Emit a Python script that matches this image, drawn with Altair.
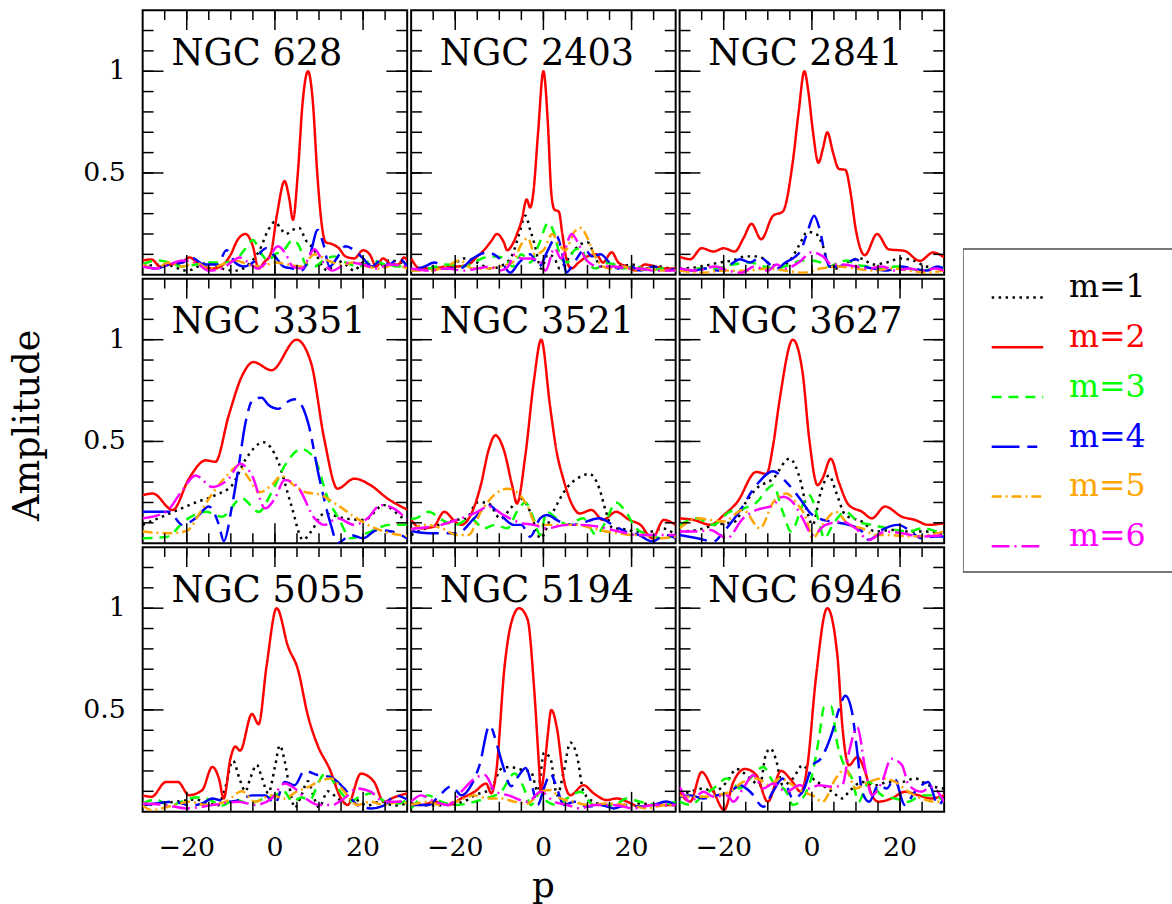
import altair as alt
import pandas as pd

FONT = "DejaVu Serif"

# Fourier modes and their styles
M_LABELS = ["m=1", "m=2", "m=3", "m=4", "m=5", "m=6"]
M_COLORS = ["#000000", "#ff0000", "#00ff00", "#0000ff", "#ffa500", "#ff00ff"]
M_DASHES = [[2.5, 4.5], [1, 0], [10, 7], [28, 8, 10, 8], [10, 4, 2, 4], [18, 5, 2, 5]]

# Axis extents, labelled values and inward tick positions
X_DOMAIN = [-30, 30]
Y_DOMAIN = [0, 1.3]
X_LABEL_VALUES = [-20, 0, 20]
Y_LABEL_VALUES = [0.5, 1]
X_TICKS_MINOR = [-25, -20, -15, -10, -5, 0, 5, 10, 15, 20, 25]
X_TICKS_MAJOR = [-20, 0, 20]
Y_TICKS_MINOR = [0.1, 0.2, 0.3, 0.4, 0.5, 0.6, 0.7, 0.8, 0.9, 1.0, 1.1, 1.2]
Y_TICKS_MAJOR = [0.5, 1.0]
X_TITLE = "p"
Y_TITLE = "Amplitude"

# Amplitude spectra: (p, amplitude) samples for each mode
NGC_628 = {
    "m=1": [(-30, .04), (-25, .05), (-20, .02), (-15, .06), (-12, .03), (-9, .02), (-6, .05), (-3.5, .12),
            (-1.5, .22), (0, .26), (1.5, .22), (2.5, .2), (4, .22), (5.5, .23), (7, .17), (9, .12),
            (10.5, .05), (12, .02), (14, .07), (16, .05), (18, .02), (20, .06), (23, .04), (26, .07), (30, .05)],
    "m=2": [(-30, .07), (-28, .075), (-26, .04), (-24, .05), (-21, .06), (-19.5, .085), (-17, .05), (-14, .03),
            (-12, .045), (-10, .1), (-8.5, .17), (-6.7, .2), (-5, .14), (-3.7, .03), (-2.5, .06), (-1, .1),
            (0.5, .3), (2.2, .46), (3.2, .38), (4.1, .27), (5.2, .5), (6.3, .85), (7.5, 1.0), (8.6, .85),
            (9.6, .5), (10.6, .25), (11.5, .16), (13, .15), (14.5, .13), (16, .09), (18, .08), (20, .12),
            (21.5, .1), (23, .04), (24.5, .08), (26.5, .05), (28, .05), (29.3, .085), (30, .07)],
    "m=3": [(-30, .05), (-27, .07), (-24, .06), (-21, .04), (-18, .05), (-15, .06), (-12, .06), (-9, .07),
            (-7, .12), (-5, .17), (-3, .1), (-1.5, .07), (0, .1), (2, .12), (4, .17), (5.5, .14), (7, .05),
            (9, .04), (11, .07), (13.5, .09), (16, .06), (19, .04), (22, .07), (25, .05), (28, .04), (30, .06)],
    "m=4": [(-30, .05), (-27, .03), (-24, .05), (-21, .06), (-19, .085), (-16, .05), (-13, .05), (-11, .12),
            (-9, .06), (-7, .04), (-5, .06), (-2, .13), (0, .09), (2, .04), (4, .03), (6, .02), (8, .1),
            (9.7, .22), (11, .15), (12.4, .04), (14, .08), (16, .14), (18, .12), (20, .08), (22, .04),
            (24, .07), (26, .05), (28, .08), (30, .04)],
    "m=5": [(-30, .05), (-27, .03), (-24, .06), (-21, .04), (-18, .06), (-15, .03), (-12, .05), (-9, .07),
            (-6, .05), (-3, .04), (0, .06), (3, .05), (6, .04), (9, .1), (12, .07), (15, .05), (18, .06),
            (21, .04), (24, .03), (27, .05), (30, .03)],
    "m=6": [(-30, .04), (-27, .03), (-24, .05), (-21, .07), (-18, .06), (-15, .02), (-12, .03), (-10, .06),
            (-8, .085), (-6, .06), (-4, .03), (-2, .06), (0.7, .14), (2.5, .1), (4, .04), (6, .03), (9, .125),
            (11, .06), (13, .02), (15, .04), (17, .06), (20, .05), (23, .03), (26, .05), (30, .04)],
}

NGC_2403 = {
    "m=1": [(-30, .02), (-26, .04), (-22, .03), (-18, .08), (-15, .06), (-12, .03), (-9, .05), (-7, .1),
            (-5.5, .2), (-4.1, .29), (-3, .22), (-2, .15), (-0.5, .03), (1, .1), (2.5, .08), (3.7, .03),
            (5, .06), (7, .12), (8.5, .15), (10, .16), (11.5, .1), (13, .04), (15, .06), (17, .04), (20, .05),
            (23, .03), (26, .04), (30, .02)],
    "m=2": [(-30, .08), (-28, .03), (-25, .03), (-22, .04), (-20, .04), (-17, .05), (-15, .09), (-13.5, .12),
            (-12, .16), (-10.5, .2), (-9, .16), (-8.2, .12), (-7, .15), (-6, .2), (-4.9, .27), (-3.8, .37),
            (-3, .33), (-2.3, .4), (-1.2, .7), (0, 1.0), (1.0, .75), (1.8, .4), (2.5, .32), (3.5, .31),
            (4.3, .2), (5.2, .08), (6.3, .03), (8, .06), (10, .09), (12, .1), (13.5, .06), (15.5, .11),
            (17, .06), (19, .04), (21, .02), (23, .05), (25.5, .04), (27.5, .03), (30, .03)],
    "m=3": [(-30, .02), (-26, .03), (-22, .05), (-18, .04), (-15, .07), (-12, .09), (-9, .085), (-7, .04),
            (-5, .1), (-3, .06), (-1, .15), (1.1, .255), (2.5, .2), (4, .08), (5.5, .06), (7, .12), (8.5, .13),
            (10, .06), (12, .03), (14, .06), (16, .05), (18, .03), (21, .04), (24, .02), (27, .03), (30, .02)],
    "m=4": [(-30, .02), (-27, .04), (-24.7, .06), (-22, .03), (-19, .03), (-16, .08), (-12.7, .11), (-10, .08),
            (-7.5, .01), (-5.5, .06), (-3, .1), (-1, .04), (1, .12), (3, .19), (4.3, .1), (5.2, .01), (7, .06),
            (9.4, .125), (11, .09), (13, .1), (15, .06), (17, .03), (19, .05), (22, .02), (25, .04), (28, .02),
            (30, .03)],
    "m=5": [(-30, .02), (-26, .02), (-22, .04), (-19, .07), (-16, .03), (-13, .03), (-10, .04), (-7, .06),
            (-5, .15), (-3.5, .18), (-2, .1), (0, .12), (2, .2), (3.5, .15), (5, .12), (7, .21), (8.5, .23),
            (10, .18), (11.5, .1), (13, .05), (15, .03), (18, .04), (21, .02), (24, .03), (27, .02), (30, .02)],
    "m=6": [(-30, .03), (-26, .02), (-22, .03), (-18, .02), (-15, .03), (-12, .04), (-10, .02), (-8, .04),
            (-6.5, .1), (-5, .08), (-3, .08), (-1, .07), (0.5, .02), (2.5, .13), (4, .08), (6.4, .2), (8, .15),
            (9.5, .08), (11, .05), (13, .04), (16, .04), (19, .03), (22, .03), (25, .02), (28, .02), (30, .02)],
}

NGC_2841 = {
    "m=1": [(-30, .03), (-25, .04), (-21, .06), (-18, .07), (-15, .09), (-12, .09), (-10, .06), (-7, .04),
            (-5, .07), (-3, .14), (-1, .21), (1, .2), (2.5, .14), (4, .04), (6, .03), (8, .06), (11, .08),
            (14, .05), (17, .06), (20, .08), (23, .07), (26, .04), (30, .03)],
    "m=2": [(-30, .088), (-27.6, .076), (-25, .13), (-22.3, .114), (-20, .13), (-17.5, .114), (-15.5, .18),
            (-13.7, .25), (-11.5, .174), (-8.8, .29), (-6.6, .31), (-4.3, .56), (-3, .8), (-1.7, 1.0),
            (-0.8, .9), (0.15, .72), (1.5, .55), (2.5, .62), (3.5, .70), (4.8, .6), (6.1, .52), (7.6, .515),
            (8.8, .4), (9.9, .23), (12, .096), (14.8, .2), (17.4, .125), (21, .117), (24.5, .068),
            (27.5, .109), (30, .085)],
    "m=3": [(-30, .02), (-26, .03), (-22, .03), (-18, .05), (-14, .06), (-11, .04), (-8, .03), (-5, .05),
            (-2, .07), (0, .07), (2, .06), (4, .04), (6, .06), (8, .07), (10, .05), (13, .04), (16, .03),
            (19, .04), (22, .03), (25, .02), (28, .03), (30, .03)],
    "m=4": [(-30, .03), (-27, .02), (-24, .03), (-21, .02), (-18.5, .05), (-16.3, .076), (-14, .06),
            (-11.8, .085), (-9.5, .05), (-8, .03), (-6, .06), (-4, .085), (-2.5, .12), (-1, .21), (0.5, .29),
            (1.8, .22), (3, .1), (4, .04), (6, .04), (8, .06), (10, .076), (12, .04), (14, .03), (17, .02),
            (20, .04), (23, .03), (26, .02), (28.5, .04), (30, .03)],
    "m=5": [(-30, .02), (-25, .01), (-20, .02), (-15, .02), (-10, .03), (-6, .02), (-2, .01), (2, .03),
            (6, .04), (10, .03), (14, .02), (18, .03), (22, .02), (26, .01), (30, .02)],
    "m=6": [(-30, .03), (-26, .02), (-22, .04), (-19, .02), (-16, .01), (-13, .04), (-10, .02), (-8, .05),
            (-6, .03), (-3, .06), (0, .11), (2.5, .09), (4.5, .05), (7, .05), (10, .04), (13, .03), (16, .04),
            (19, .02), (22, .03), (25, .02), (28, .03), (30, .02)],
}

NGC_3351 = {
    "m=1": [(-30, .09), (-23, .154), (-18, .2), (-13.5, .236), (-9.7, .285), (-6.7, .41), (-2.6, .496),
            (0.75, .40), (3.7, .187), (6.4, .016), (8.2, .057), (11.2, .146), (15.7, .122), (20.2, .114),
            (24.7, .187), (29.2, .122), (30, .115)],
    "m=2": [(-30, .236), (-27.7, .244), (-23.2, .163), (-19.5, .317), (-15.7, .407), (-13.5, .40),
            (-10.5, .626), (-7.5, .82), (-4.9, .89), (-0.75, .85), (4.9, 1.0), (8.2, .886), (11.2, .51),
            (14.2, .268), (18, .317), (21.7, .285), (25.5, .22), (30, .165)],
    "m=3": [(-30, .024), (-24.7, .03), (-20.2, .114), (-15.7, .154), (-12, .13), (-7.5, .22), (-3.7, .154),
            (-0.75, .25), (2.2, .38), (6, .463), (9, .415), (12, .22), (14.5, .12), (17.2, .024),
            (21.7, .057), (26, .09), (30, .09)],
    "m=4": [(-30, .154), (-24, .154), (-21, .09), (-18, .122), (-15, .18), (-12.7, .09), (-11.6, .01),
            (-9.7, .187), (-8.2, .38), (-6.7, .59), (-4.9, .707), (-3, .715), (-1.5, .68), (0.75, .66),
            (2.5, .69), (4.5, .707), (6, .68), (7.5, .594), (10.1, .317), (12.7, .09), (14.2, .0),
            (17.2, .04), (20, .024), (23.2, .065), (26.5, .057), (30, .024)],
    "m=5": [(-30, .057), (-24, .049), (-20, .06), (-17, .15), (-14, .25), (-11, .33), (-8.2, .38), (-6, .32),
            (-3.5, .25), (-1, .28), (1.5, .33), (4, .29), (7, .25), (10, .24), (14, .19), (18, .13), (22, .08),
            (26, .05), (30, .035)],
    "m=6": [(-30, .122), (-24.7, .154), (-21, .26), (-18, .333), (-14.2, .276), (-10.5, .317), (-7.9, .39),
            (-5.2, .333), (-2.2, .17), (0, .22), (2.2, .31), (5.2, .276), (9, .122), (11.2, .09), (14.2, .122),
            (18, .09), (21, .122), (24, .187), (27, .17), (30, .114)],
}

NGC_3521 = {
    "m=1": [(-30, .04), (-27, .07), (-22, .1), (-20, .114), (-17.5, .12), (-15, .2), (-12.7, .2), (-9.7, .12),
            (-7.5, .17), (-5.2, .22), (-3, .154), (-1.5, .057), (-0.75, .024), (2.2, .154), (5.2, .268),
            (8.2, .325), (10.5, .34), (12.7, .268), (14.2, .154), (15.7, .073), (18, .07), (21, .057),
            (24.7, .057), (27, .073), (30, .04)],
    "m=2": [(-30, .114), (-27.7, .073), (-25, .08), (-22.5, .154), (-20, .106), (-18.7, .09), (-16.5, .138),
            (-14.2, .285), (-12.4, .46), (-10.9, .53), (-9, .46), (-7.1, .285), (-6, .195), (-4.1, .43),
            (-2.2, .79), (-0.5, 1.0), (1.5, .675), (3, .45), (4.5, .317), (6.5, .19), (8.2, .146),
            (10.9, .163), (13.5, .114), (16.5, .154), (19.5, .114), (22, .09), (24.7, .024), (27.3, .114),
            (30, .09)],
    "m=3": [(-30, .12), (-29, .122), (-26, .154), (-23, .114), (-20, .09), (-16.5, .122), (-13.5, .073),
            (-11, .09), (-8.2, .073), (-6, .154), (-4.1, .2), (-2.2, .12), (-0.75, .04), (0.75, .154),
            (3, .122), (5.5, .09), (9, .122), (12, .04), (14, .1), (16.5, .2), (18.7, .154), (21, .073),
            (24, .04), (27, .024), (30, .04)],
    "m=4": [(-30, .06), (-26, .049), (-19.5, .049), (-15.7, .122), (-12.4, .187), (-9.7, .138), (-6.7, .09),
            (-5, .09), (-3, .032), (-0.75, .122), (0.75, .138), (3.7, .106), (6.7, .09), (9.7, .106),
            (12.7, .122), (15.7, .09), (18.7, .057), (21.7, .04), (24.7, .008), (27.7, .04), (30, .024)],
    "m=5": [(-30, .065), (-27, .09), (-23, .073), (-19.5, .04), (-17, .04), (-14.2, .154), (-11.2, .236),
            (-8.2, .268), (-6, .25), (-3.7, .187), (-1.5, .09), (1.5, .09), (4.5, .09), (7.5, .09),
            (11.2, .073), (14.2, .057), (17.2, .049), (20.2, .04), (23.2, .04), (26.2, .024), (30, .032)],
    "m=6": [(-30, .07), (-28.5, .073), (-23.2, .09), (-18.7, .122), (-15.7, .146), (-12.4, .18), (-9, .138),
            (-5.2, .1), (-2.2, .09), (0.75, .073), (5.2, .09), (9, .09), (12.7, .08), (17.2, .057),
            (21.7, .04), (26.2, .04), (30, .04)],
}

NGC_3627 = {
    "m=1": [(-30, .057), (-26, .065), (-22, .09), (-17.5, .106), (-15, .2), (-12.6, .268), (-8.8, .317),
            (-5.1, .415), (-2.5, .3), (-1, .15), (0.15, .09), (2, .25), (3.9, .333), (5.5, .25), (7.6, .138),
            (11.4, .106), (14.4, .057), (18, .065), (22, .057), (26, .057), (30, .04)],
    "m=2": [(-30, .122), (-26.8, .114), (-23, .09), (-20, .138), (-17, .2), (-12.6, .35), (-10.3, .34),
            (-8.8, .48), (-7.3, .707), (-4.3, 1.0), (-2.1, .837), (-0.6, .512), (1.3, .285), (2.4, .317),
            (4.3, .415), (6.1, .3), (8.4, .187), (11.4, .154), (13.6, .122), (16.6, .18), (20.4, .13),
            (23.4, .114), (26.4, .09), (30, .098)],
    "m=3": [(-30, .09), (-26, .122), (-22.5, .09), (-18.7, .154), (-15.6, .17), (-12.6, .2), (-8.8, .285),
            (-6.6, .154), (-4.7, .057), (-2.1, .187), (-0.6, .236), (1.6, .106), (2.8, .024), (5, .1),
            (7.6, .154), (10.5, .106), (13.5, .09), (17.2, .073), (21.9, .057), (25, .073), (30, .04)],
    "m=4": [(-30, .04), (-26, .024), (-22.3, .008), (-20, .057), (-17, .138), (-12.6, .285), (-8.8, .354),
            (-5.8, .3), (-2.1, .2), (-0.6, .154), (1.6, .122), (4.6, .106), (8.4, .09), (11.4, .057),
            (12.9, .016), (15.9, .065), (19.6, .09), (22, .065), (24.9, .024), (27.8, .033), (30, .033)],
    "m=5": [(-30, .073), (-26, .122), (-23, .114), (-20, .106), (-15.6, .163), (-11.8, .073), (-8.8, .2),
            (-5.8, .244), (-3.6, .2), (-1.3, .122), (0.15, .024), (2.4, .09), (5.4, .154), (8.4, .09),
            (11.4, .073), (14.4, .04), (17.4, .04), (21.9, .033), (26.4, .04), (30, .057)],
    "m=6": [(-30, .057), (-26, .057), (-23, .065), (-19.3, .024), (-15.6, .122), (-12.6, .163), (-8.8, .187),
            (-6.6, .228), (-4.3, .2), (-2.1, .122), (0.15, .04), (3.1, .09), (6.9, .106), (9.9, .073),
            (12.9, .016), (16.6, .057), (20.4, .049), (24.9, .033), (30, .04)],
}

NGC_5055 = {
    "m=1": [(-30, .03), (-26, .04), (-22, .05), (-18, .06), (-15, .04), (-13, .03), (-11.5, .1), (-9.5, .25),
            (-8, .16), (-6.7, .1), (-5.5, .17), (-4.1, .23), (-3, .17), (-1.5, .09), (0, .22), (1.1, .325),
            (2.2, .25), (3.3, .12), (4.5, .02), (6, .08), (7.5, .15), (9, .06), (10, .02), (12, .1), (14, .07),
            (16, .04), (18, .06), (21, .03), (24, .05), (27, .03), (30, .04)],
    "m=2": [(-30, .08), (-28, .073), (-24.7, .146), (-22, .146), (-19.5, .081), (-16.5, .106), (-14.2, .22),
            (-12.7, .163), (-11.6, .065), (-10.1, .26), (-9, .32), (-7.9, .30), (-5.2, .48), (-3.7, .43),
            (-1.9, .715), (0.4, 1.0), (3, .81), (5.2, .70), (7.5, .47), (9.7, .325), (12.4, .21), (15, .065),
            (16.5, .033), (19.5, .187), (22.5, .146), (24.7, .049), (27, .07), (30, .09)],
    "m=3": [(-30, .04), (-27, .06), (-24, .03), (-21, .05), (-18, .07), (-15, .06), (-12, .03), (-9, .06),
            (-6, .04), (-3, .06), (0, .08), (2, .1), (4, .05), (6, .07), (8, .06), (10, .15), (11.5, .19),
            (13.5, .14), (15.5, .08), (17, .05), (19, .07), (22, .09), (25, .05), (28, .04), (30, .06)],
    "m=4": [(-30, .03), (-27, .04), (-23, .049), (-19, .03), (-16.5, .04), (-14.2, .065), (-11, .049),
            (-8, .057), (-5.2, .08), (-2.2, .08), (0, .04), (2.2, .146), (4.5, .13), (6.7, .2), (9.7, .18),
            (12.7, .17), (15.7, .114), (18.7, .033), (21.7, .016), (24.7, .03), (27.3, .08), (30, .06)],
    "m=5": [(-30, .03), (-28, .008), (-23.2, .03), (-19.5, .049), (-15.7, .033), (-11.2, .049), (-7.5, .1),
            (-4.5, .049), (-0.75, .08), (2.2, .065), (5, .1), (7.5, .12), (9.7, .146), (12.7, .163),
            (15.7, .1), (18.7, .033), (21.7, .049), (24.7, .033), (28, .049), (30, .04)],
    "m=6": [(-30, .04), (-25, .033), (-20, .016), (-16.5, .024), (-12, .04), (-8.2, .049), (-4.5, .033),
            (-0.75, .065), (2.2, .138), (4.5, .114), (7, .065), (10, .033), (13, .033), (15.7, .065),
            (18.7, .114), (21.7, .098), (24.7, .049), (28, .049), (30, .06)],
}

NGC_5194 = {
    "m=1": [(-30, .04), (-25, .03), (-22, .033), (-18, .05), (-15.6, .08), (-11.8, .114), (-9.6, .21),
            (-7.5, .22), (-5.8, .21), (-2.8, .195), (-1.3, .1), (0.15, .29), (1.6, .26), (3.1, .08),
            (4.6, .195), (6.1, .34), (7.6, .276), (9.1, .098), (11.4, .049), (14.4, .033), (18, .033),
            (22, .04), (26, .033), (30, .033)],
    "m=2": [(-30, .04), (-27.6, .033), (-24.6, .049), (-21.6, .033), (-18.6, .065), (-15.6, .098),
            (-13, .138), (-11.8, .09), (-10.7, .195), (-8.8, .715), (-7.3, .927), (-5.5, 1.0), (-3.6, .946),
            (-2.1, .605), (-1, .228), (-0.6, .1), (0.15, .195), (0.9, .358), (1.8, .5), (3.1, .407),
            (4.6, .163), (6.1, .081), (9.1, .13), (11.4, .09), (14.4, .057), (16.6, .065), (19, .049),
            (21.9, .024), (25, .033), (28, .033), (30, .033)],
    "m=3": [(-30, .016), (-26.2, .08), (-23.2, .049), (-19.5, .033), (-15.6, .049), (-13, .065), (-9.6, .098),
            (-6.6, .187), (-4.7, .13), (-2.8, .033), (-0.6, .098), (0.9, .049), (3.1, .033), (5.4, .065),
            (8.4, .098), (11.4, .033), (15.9, .033), (18.9, .065), (21.9, .049), (26.4, .033), (30, .049)],
    "m=4": [(-30, .033), (-26, .033), (-23.6, .08), (-20.8, .125), (-18.6, .08), (-16.3, .133), (-14.5, .228),
            (-12.2, .423), (-10.3, .31), (-9.2, .228), (-7.3, .125), (-5.8, .17), (-4, .215), (-2.5, .12),
            (-1.3, .033), (0.2, .12), (1.6, .187), (2.8, .133), (4.6, .033), (7, .049), (10, .024), (13, .033),
            (16, .016), (19, .033), (22, .024), (25, .033), (27.8, .05), (30, .033)],
    "m=5": [(-30, .033), (-26, .049), (-23.6, .033), (-19.9, .049), (-15.6, .08), (-12.6, .065), (-9.6, .065),
            (-6.6, .049), (-3.6, .04), (-0.6, .098), (1.6, .106), (3.9, .065), (6.9, .049), (9.9, .033),
            (14.4, .04), (18.9, .033), (23.4, .016), (27.8, .033), (30, .033)],
    "m=6": [(-30, .049), (-27.7, .08), (-24.6, .049), (-21.6, .033), (-18.6, .098), (-15.6, .163),
            (-13.3, .18), (-10.9, .098), (-7.9, .08), (-3.6, .049), (-0.6, .098), (2.4, .049), (5.4, .033),
            (8.4, .016), (11.4, .033), (15.9, .033), (20.4, .016), (24.9, .033), (30, .033)],
}

NGC_6946 = {
    "m=1": [(-30, .08), (-27.6, .098), (-24.6, .114), (-22.3, .098), (-19.3, .146), (-17.1, .21), (-14, .163),
            (-11.8, .13), (-10.5, .276), (-9.4, .31), (-8.2, .26), (-6.6, .13), (-4.3, .163), (-2.1, .228),
            (0.2, .163), (2.4, .13), (4.6, .098), (6.9, .065), (8.4, .098), (11.4, .146), (14.4, .13),
            (17.4, .146), (20.4, .146), (23.4, .163), (26.4, .13), (30, .114)],
    "m=2": [(-30, .098), (-27.6, .049), (-25, .195), (-22.3, .098), (-19.9, .008), (-17.8, .146), (-15.2, .21),
            (-12.6, .18), (-10, .049), (-7, .2), (-4.7, .155), (-2.5, .098), (-1, .228), (0.9, .654),
            (3.5, 1.0), (5.8, .764), (6.9, .423), (8.4, .228), (10.3, .268), (12.1, .195), (13.6, .081),
            (15.1, .049), (18.1, .065), (21.1, .098), (24.1, .081), (27, .065), (30, .081)],
    "m=3": [(-30, .049), (-27.6, .033), (-24.6, .08), (-22.3, .114), (-19.3, .163), (-16.3, .114), (-14, .163),
            (-11, .22), (-8.8, .146), (-5.8, .098), (-4.3, .033), (-2.1, .065), (0.2, .195), (1.6, .36),
            (2.8, .515), (4.3, .52), (5.8, .33), (7.3, .228), (9.1, .163), (10.6, .049), (12.9, .146),
            (15.9, .08), (18.9, .065), (21.9, .049), (24.9, .08), (27.8, .08), (30, .049)],
    "m=4": [(-30, .073), (-27.6, .08), (-24.6, .065), (-21.6, .08), (-19, .09), (-16.3, .13), (-14, .098),
            (-11, .024), (-8.8, .1), (-6.6, .163), (-4.3, .065), (-2.1, .098), (0.15, .228), (2, .26),
            (4.6, .39), (6.1, .5), (7.6, .57), (9.1, .49), (10.3, .29), (11.4, .098), (13, .049), (15.1, .13),
            (17, .114), (18.7, .163), (21.1, .033), (23.4, .098), (26.4, .146), (28.6, .033), (30, .065)],
    "m=5": [(-30, .08), (-27.6, .073), (-24.6, .073), (-21.6, .08), (-18.6, .098), (-15.6, .146), (-12.6, .163),
            (-9.6, .13), (-7.3, .163), (-4.3, .13), (-2.1, .098), (0.15, .08), (2.4, .049), (5.4, .163),
            (7.6, .21), (9.9, .114), (12.9, .146), (15.9, .163), (18.9, .146), (21.9, .098), (24.9, .065),
            (27.8, .049), (30, .049)],
    "m=6": [(-30, .122), (-27.6, .049), (-24.6, .098), (-22.3, .073), (-19.3, .08), (-17.8, .049), (-15.6, .114),
            (-13.3, .18), (-11, .114), (-8.8, .138), (-5.8, .098), (-2.8, .13), (-0.6, .114), (1.6, .13),
            (4.6, .122), (6.9, .13), (8.4, .29), (10.3, .415), (12.1, .21), (13.6, .081), (15.9, .146),
            (18, .26), (20.4, .23), (22, .13), (24.9, .098), (27, .122), (30, .049)],
}

GALAXIES = [
    ("NGC 628", NGC_628), ("NGC 2403", NGC_2403), ("NGC 2841", NGC_2841),
    ("NGC 3351", NGC_3351), ("NGC 3521", NGC_3521), ("NGC 3627", NGC_3627),
    ("NGC 5055", NGC_5055), ("NGC 5194", NGC_5194), ("NGC 6946", NGC_6946),
]

W = 267          # panel width
H = 267          # panel height
TICK_FONT = 27

XS = alt.Scale(domain=X_DOMAIN, nice=False, zero=False)
YS = alt.Scale(domain=Y_DOMAIN, nice=False, zero=False)
COLOR = alt.Color("m:N", scale=alt.Scale(domain=M_LABELS, range=M_COLORS), legend=None)
DASH = alt.StrokeDash("m:N", scale=alt.Scale(domain=M_LABELS, range=M_DASHES), legend=None)


def inward_ticks():
    """Ticks on all four sides of a panel, pointing into the frame."""
    layers = []
    for vals, length in ((X_TICKS_MINOR, 10), (X_TICKS_MAJOR, 20)):
        base = alt.Chart(pd.DataFrame({"v": vals})).mark_rule(color="black", strokeWidth=1.5)
        x = alt.X("v:Q", scale=XS, axis=None)
        layers.append(base.encode(x=x, y=alt.value(0), y2=alt.value(length)))
        layers.append(base.encode(x=x, y=alt.value(H), y2=alt.value(H - length)))
    for vals, length in ((Y_TICKS_MINOR, 11), (Y_TICKS_MAJOR, 21)):
        base = alt.Chart(pd.DataFrame({"v": vals})).mark_rule(color="black", strokeWidth=1.5)
        y = alt.Y("v:Q", scale=YS, axis=None)
        layers.append(base.encode(y=y, x=alt.value(0), x2=alt.value(length)))
        layers.append(base.encode(y=y, x=alt.value(W), x2=alt.value(W - length)))
    return layers


def tick_labels(row, col):
    """Numeric labels outside the left column and below the bottom row, plus axis titles."""
    layers = []
    txt = dict(font=FONT, color="black")
    if col == 0:
        layers.append(
            alt.Chart(pd.DataFrame({"v": Y_LABEL_VALUES})).mark_text(
                align="right", baseline="middle", fontSize=TICK_FONT, **txt
            ).encode(y=alt.Y("v:Q", scale=YS, axis=None), x=alt.value(-17),
                     text=alt.Text("v:Q", format="~g"))
        )
        if row == 1:
            layers.append(
                alt.Chart(pd.DataFrame({"t": [Y_TITLE]})).mark_text(
                    align="center", baseline="middle", angle=270, fontSize=37, **txt
                ).encode(x=alt.value(-116), y=alt.value(148), text="t:N")
            )
    if row == 2:
        layers.append(
            alt.Chart(pd.DataFrame({"v": X_LABEL_VALUES})).mark_text(
                align="center", baseline="alphabetic", fontSize=TICK_FONT, **txt
            ).encode(x=alt.X("v:Q", scale=XS, axis=None), y=alt.value(H + 45),
                     text=alt.Text("v:Q", format="~g"))
        )
        if col == 1:
            layers.append(
                alt.Chart(pd.DataFrame({"t": [X_TITLE]})).mark_text(
                    align="center", baseline="alphabetic", fontSize=36, **txt
                ).encode(x=alt.value(W / 2), y=alt.value(H + 86), text="t:N")
            )
    return layers


def panel(idx, name, series):
    row, col = divmod(idx, 3)
    rows = []
    for m in M_LABELS:
        for p, a in series[m]:
            rows.append({"m": m, "p": p, "A": a})
    df = pd.DataFrame(rows)

    lines = alt.Chart(df).mark_line(strokeWidth=2.5, interpolate="monotone", clip=True).encode(
        x=alt.X("p:Q", scale=XS, axis=None),
        y=alt.Y("A:Q", scale=YS, axis=None),
        color=COLOR,
        strokeDash=DASH,
    )
    label = alt.Chart(pd.DataFrame({"name": [name]})).mark_text(
        align="left", baseline="alphabetic", font=FONT, fontSize=37, color="black"
    ).encode(x=alt.value(29), y=alt.value(55), text="name:N")

    return alt.layer(lines, *inward_ticks(), label, *tick_labels(row, col)).properties(width=W, height=H)


panels = [panel(i, name, s) for i, (name, s) in enumerate(GALAXIES)]
grid = alt.concat(*panels, columns=3, spacing=0)

# Legend: sample strokes and coloured labels inside a framed box
legend_df = pd.DataFrame({"m": M_LABELS})
ROW = alt.Scale(type="point", domain=M_LABELS, range=[290, 541], padding=0)
box = alt.Chart(pd.DataFrame({"b": [0]})).mark_rect(
    fillOpacity=0, stroke="#4d4d4d", strokeWidth=1.5, clip=True
).encode(x=alt.value(0), x2=alt.value(260), y=alt.value(241), y2=alt.value(567))
samples = alt.Chart(legend_df).mark_rule(strokeWidth=2.5).encode(
    x=alt.value(29), x2=alt.value(81), y=alt.Y("m:N", scale=ROW, axis=None), color=COLOR, strokeDash=DASH
)
texts = alt.Chart(legend_df).mark_text(
    align="left", baseline="alphabetic", font=FONT, fontSize=32
).encode(x=alt.value(107), y=alt.Y("m:N", scale=ROW, axis=None), text="m:N", color=COLOR)
legend = alt.layer(box, samples, texts).properties(
    width=211, height=H * 3, view=alt.ViewBackground(strokeOpacity=0)
)

chart = alt.hconcat(grid, legend, spacing=17).properties(
    padding={"left": 8, "top": 4, "right": 0, "bottom": 2},
    background="white",
).configure_view(stroke="black", strokeWidth=2)

chart.save("out.html", embed_options={"renderer": "svg", "actions": False})
